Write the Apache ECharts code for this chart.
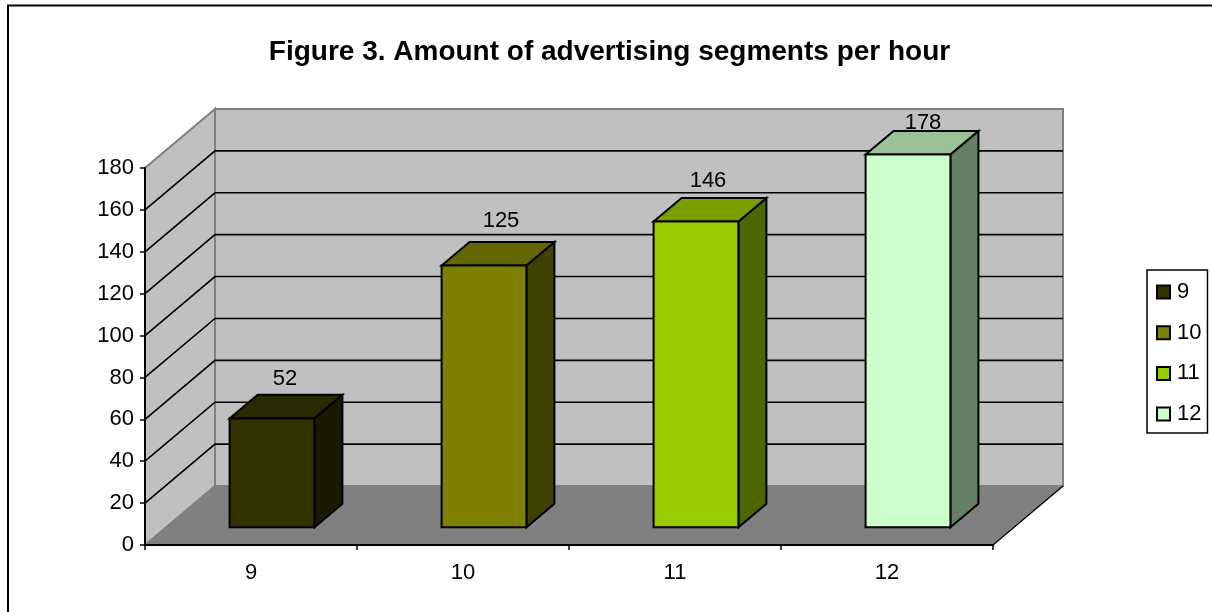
<!DOCTYPE html>
<html>
<head>
<meta charset="utf-8">
<style>html,body{margin:0;padding:0;background:#fff}#chart{width:1212px;height:612px}</style>
<script src="https://cdn.jsdelivr.net/npm/echarts@6/dist/echarts.min.js"></script>
</head>
<body>
<div id="chart"></div>
<script>
// Advertising segments per hour, drawn as an oblique 3-D column chart.
const hours = ['9', '10', '11', '12'];
const segments = [52, 125, 146, 178];
const faceColors = ['#333300', '#808000', '#99CC00', '#CCFFCC'];
const sideColors = ['#1a1a00', '#404000', '#4d6600', '#668066'];
const topColors = ['#292900', '#666600', '#7a9f00', '#99c299'];
const yTicks = [0, 20, 40, 60, 80, 100, 120, 140, 160, 180];

// Oblique projection: how far the back of the plot sits from the front plane.
const DEPTH_X = 70, DEPTH_Y = -59;
const BAR_RATIO = 1 / 2.5;
const FRONT_DEPTH = 0.3, BACK_DEPTH = 0.7;
// Label placement relative to the top-centre of each column's front face.
const labelShift = [[13, -39], [17, -45], [12, -41], [15, -32]];
const FONT = '"Liberation Sans", Arial, sans-serif';

const shifted = (p, d) => [p[0] + DEPTH_X * d, p[1] + DEPTH_Y * d];
const poly = (points, fill, stroke, lineWidth) => ({
  type: 'polygon',
  shape: { points },
  style: { fill, stroke: stroke || null, lineWidth: lineWidth || 0 }
});

// Back wall, side wall, floor and the gridlines that wrap around the two walls.
function renderShell(params, api) {
  const slot = api.size([1, 0])[0];
  const centre = api.coord([0, 0]);
  const o = [centre[0] - slot / 2, centre[1]];
  const right = o[0] + slot * hours.length;
  const top = api.coord([0, 180])[1];
  const children = [
    poly([o, [o[0], top], shifted([o[0], top], 1), shifted(o, 1)], '#C0C0C0', '#808080', 2),
    poly([shifted([o[0], top], 1), shifted([right, top], 1), shifted([right, o[1]], 1), shifted(o, 1)], '#C0C0C0', '#808080', 2),
    poly([o, [right, o[1]], shifted([right, o[1]], 1), shifted(o, 1)], '#808080', '#808080', 1)
  ];
  yTicks.slice(1, -1).forEach(v => {
    const y = api.coord([0, v])[1];
    const a = [o[0], y], b = shifted(a, 1), c = shifted([right, y], 1);
    children.push({ type: 'polyline', shape: { points: [a, b, c] }, style: { fill: null, stroke: '#000', lineWidth: 1.6 } });
  });
  // Floor's front-right slant edge
  children.push({
    type: 'line',
    shape: { x1: right, y1: o[1], x2: right + DEPTH_X, y2: o[1] + DEPTH_Y },
    style: { stroke: '#000', lineWidth: 1.2 }
  });
  return { type: 'group', children };
}

// One column: front, side and top faces plus its value label.
function renderColumn(params, api) {
  const i = api.value(0), v = api.value(1);
  const centre = api.coord([i, 0]);
  const slot = api.size([1, 0])[0];
  const width = slot * BAR_RATIO;
  const x0 = centre[0] - width / 2;
  const base = centre[1];
  const top = api.coord([i, v])[1];
  const a = shifted([x0, base], FRONT_DEPTH), b = shifted([x0 + width, base], FRONT_DEPTH);
  const c = shifted([x0 + width, top], FRONT_DEPTH), d = shifted([x0, top], FRONT_DEPTH);
  const span = BACK_DEPTH - FRONT_DEPTH;
  const shift = labelShift[i];
  return {
    type: 'group',
    children: [
      poly([b, c, shifted(c, span), shifted(b, span)], sideColors[i], '#000', 2),
      poly([d, c, shifted(c, span), shifted(d, span)], topColors[i], '#000', 2),
      poly([a, b, c, d], faceColors[i], '#000', 2),
      {
        type: 'text',
        x: (c[0] + d[0]) / 2 + shift[0],
        y: d[1] + shift[1],
        z2: 10,
        style: {
          text: String(v), fill: '#000', font: '22px ' + FONT,
          align: 'center', verticalAlign: 'middle'
        }
      }
    ]
  };
}

const columnSeries = hours.map((h, i) => ({
  name: h,
  type: 'custom',
  coordinateSystem: 'cartesian2d',
  clip: false,
  z: 3,
  renderItem: renderColumn,
  encode: { x: 0, y: 1 },
  itemStyle: { color: faceColors[i], borderColor: '#000', borderWidth: 2 },
  data: [[i, segments[i]]]
}));

const chart = echarts.init(document.getElementById('chart'), null, { renderer: 'canvas' });
chart.setOption({
  animation: false,
  backgroundColor: '#fff',
  title: {
    text: 'Figure 3. Amount of advertising segments per hour',
    left: 609.5, top: 38, textAlign: 'center', padding: 0,
    textStyle: { fontFamily: FONT, fontWeight: 'bold', fontSize: 28, color: '#000' }
  },
  legend: {
    data: hours,
    orient: 'vertical',
    left: 1147, top: 270,
    icon: 'rect',
    itemWidth: 13, itemHeight: 13, itemGap: 18.7,
    padding: [11, 6, 8, 9],
    backgroundColor: '#fff',
    borderColor: '#000', borderWidth: 1.5, borderRadius: 0,
    selectedMode: false,
    textStyle: { fontFamily: FONT, fontSize: 22, color: '#000', padding: [0, 0, 0, 2] }
  },
  grid: { left: 145, top: 168, width: 848, height: 377, containLabel: false },
  xAxis: {
    type: 'category',
    data: hours,
    z: 6,
    axisLine: { show: true, lineStyle: { color: '#000', width: 2 } },
    axisTick: { show: true, length: 5, lineStyle: { color: '#000', width: 1.5 } },
    axisLabel: { color: '#000', fontFamily: FONT, fontSize: 22, margin: 17 },
    splitLine: { show: false }
  },
  yAxis: {
    type: 'value',
    min: 0, max: 180, interval: 20,
    z: 6,
    axisLine: { show: true, lineStyle: { color: '#000', width: 2 } },
    axisTick: { show: true, length: 5, lineStyle: { color: '#000', width: 1.5 } },
    axisLabel: { color: '#000', fontFamily: FONT, fontSize: 22, margin: 11, padding: [2, 0, 0, 0] },
    splitLine: { show: false }
  },
  series: [
    {
      name: 'plot shell',
      type: 'custom',
      coordinateSystem: 'cartesian2d',
      clip: false,
      z: 1,
      silent: true,
      renderItem: renderShell,
      data: [[0, 0]]
    },
    ...columnSeries
  ],
  // Chart frame: its top and left edges run to the page edge.
  graphic: [{
    type: 'polyline',
    z: 100,
    silent: true,
    shape: { points: [[8, 612], [8, 5.5], [1212, 5.5]] },
    style: { fill: null, stroke: '#000', lineWidth: 2 }
  }]
});
</script>
</body>
</html>
